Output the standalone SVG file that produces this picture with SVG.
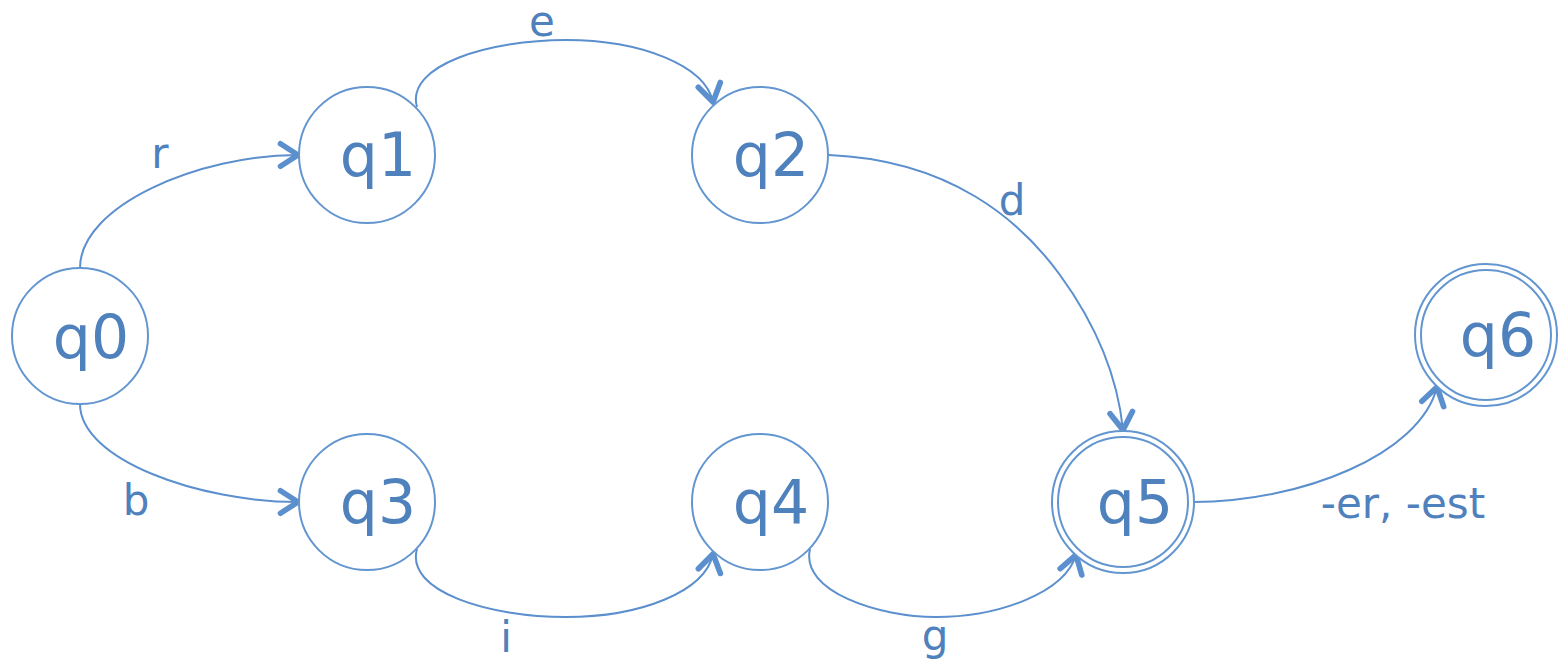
<svg xmlns="http://www.w3.org/2000/svg" width="1563" height="663" viewBox="0 0 1563 663">
<style>
.st{fill:#fff;stroke:#6396d0;stroke-width:2}
.dbl{fill:none;stroke:#6396d0;stroke-width:2}
.nt{font-family:"DejaVu Sans",Verdana,sans-serif;font-size:60px;fill:#4f81bd;text-anchor:middle}
.lb{font-family:"DejaVu Sans",Verdana,sans-serif;font-size:42px;fill:#4f81bd;text-anchor:middle}
.ed{fill:none;stroke:#5b8fcd;stroke-width:2;marker-end:url(#ah)}
</style>
<defs>
<marker id="ah" markerUnits="userSpaceOnUse" markerWidth="30" markerHeight="30" viewBox="-16 -12 20 24" refX="0" refY="0" orient="auto">
<path d="M-14,-9 L0,0 L-14,9" fill="none" stroke="#5b8fcd" stroke-width="4.5" stroke-linecap="round" stroke-linejoin="round"/>
</marker>
</defs>
<g id="edges">
<path class="ed" d="M80,268 C80,205 200,155 298,155"/>
<path class="ed" d="M80,404 C80,460 200,502 298,502"/>
<path class="ed" d="M417,107 C405,65 490,40 566,40 C640,40 705,65 713,102"/>
<path class="ed" d="M417,549 C405,592 490,617 566,617 C640,617 705,592 713,554"/>
<path class="ed" d="M810,549 C800,592 880,617 936,617 C1000,617 1065,592 1076,555"/>
<path class="ed" d="M829,155 C950,160 1020,220 1060,275 C1100,330 1118,380 1123,430"/>
<path class="ed" d="M1194,502 C1300,502 1420,455 1437,387"/>
<text class="lb" x="160" y="168">r</text>
<text class="lb" x="136" y="515">b</text>
<text class="lb" x="542" y="36">e</text>
<text class="lb" x="506" y="652">i</text>
<text class="lb" x="935" y="650">g</text>
<text class="lb" x="1012" y="215">d</text>
<text class="lb" x="1403" y="518">-er, -est</text>
</g>
<g id="q0"><circle class="st" cx="80" cy="336" r="68"/><text class="nt" x="91" y="358">q0</text></g>
<g id="q1"><circle class="st" cx="367" cy="155" r="68"/><text class="nt" x="378" y="176">q1</text></g>
<g id="q2"><circle class="st" cx="760" cy="155" r="68"/><text class="nt" x="771" y="176">q2</text></g>
<g id="q3"><circle class="st" cx="367" cy="502" r="68"/><text class="nt" x="378" y="523">q3</text></g>
<g id="q4"><circle class="st" cx="760" cy="502" r="68"/><text class="nt" x="771" y="523">q4</text></g>
<g id="q5"><circle class="st" cx="1123" cy="502" r="71"/><circle class="dbl" cx="1123" cy="502" r="65"/><text class="nt" x="1135" y="523">q5</text></g>
<g id="q6"><circle class="st" cx="1486" cy="335" r="71"/><circle class="dbl" cx="1486" cy="335" r="65"/><text class="nt" x="1498" y="356">q6</text></g>
</svg>
